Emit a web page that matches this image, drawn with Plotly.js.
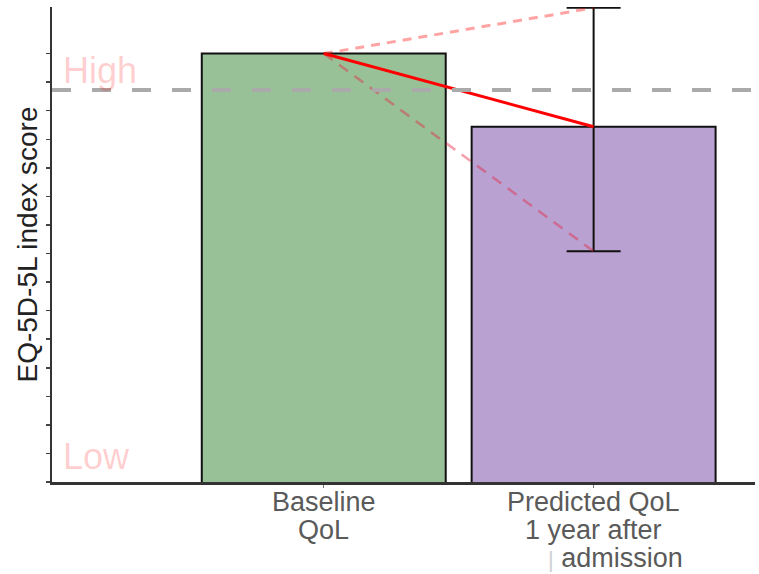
<!DOCTYPE html>
<html>
<head>
<meta charset="utf-8">
<script src="https://cdn.plot.ly/plotly-3.0.1.min.js"></script>
<style>html,body{margin:0;padding:0;background:#fff;}#chart{width:759px;height:574px;}</style>
</head>
<body>
<div id="chart"></div>
<script>
// ---- data ----
const categories = ['Baseline QoL', 'Predicted QoL 1 year after admission'];
const tickLines = [['Baseline', 'QoL'], ['Predicted QoL', '1 year after', '<span style="font-size:22px;color:#d0d0d0">|</span> admission']];
const meanScores = [1.0, 0.872];
const predictedUpper = 1.080;
const predictedLower = 0.654;
const highThreshold = 0.936;
const yTickVals = [0.25, 0.30, 0.35, 0.40, 0.45, 0.50, 0.55, 0.60, 0.65, 0.70, 0.75, 0.80, 0.85, 0.90, 0.95, 1.00];
const levelLabels = ['High', 'Low'];
const levelPositions = [0.971, 0.294];
const yTitle = 'EQ-5D-5L index score';

const xPos = categories.map((c, i) => i);
const barColors = ['#99c198', '#b9a1d1'];
const FONT = 'Liberation Sans, Arial, sans-serif';

const traces = [
  {
    type: 'bar', x: xPos, y: meanScores, width: 0.904,
    marker: {color: barColors, line: {color: '#111', width: 2}},
    hoverinfo: 'skip', showlegend: false
  },
  {
    type: 'scatter', mode: 'markers', x: [xPos[1]], y: [meanScores[1]],
    marker: {size: 1, opacity: 0},
    error_y: {type: 'data', symmetric: false,
      array: [predictedUpper - meanScores[1]],
      arrayminus: [meanScores[1] - predictedLower],
      color: '#111', thickness: 2, width: 27},
    hoverinfo: 'skip', showlegend: false
  },
  {
    type: 'scatter', mode: 'lines', x: xPos, y: [meanScores[0], predictedUpper],
    line: {color: 'rgba(255,0,0,0.36)', width: 3, dash: '9px,7px'},
    hoverinfo: 'skip', showlegend: false
  },
  {
    type: 'scatter', mode: 'lines', x: xPos, y: [meanScores[0], predictedLower],
    line: {color: 'rgba(230,30,60,0.42)', width: 2.5, dash: '11px,8px'},
    hoverinfo: 'skip', showlegend: false
  },
  {
    type: 'scatter', mode: 'lines', x: xPos, y: meanScores,
    line: {color: '#ff0000', width: 3},
    hoverinfo: 'skip', showlegend: false
  }
];

const annotations = [];
tickLines.forEach((lines, i) => {
  lines.forEach((t, j) => {
    annotations.push({
      text: t, xref: 'x', yref: 'paper', x: xPos[i], y: 0,
      xanchor: 'center', yanchor: 'top', showarrow: false, borderpad: 0,
      yshift: -4 - j * 28, xshift: (i === 1 && j === 2) ? 22 : 0,
      font: {family: FONT, size: 27, color: '#5a5a5a'}
    });
  });
});
levelLabels.forEach((t, i) => {
  annotations.push({
    text: t, xref: 'paper', yref: 'y', x: 0, y: levelPositions[i],
    xanchor: 'left', yanchor: 'middle', showarrow: false, xshift: 9,
    font: {family: FONT, size: 36, color: 'rgba(255,0,0,0.2)'}
  });
});

const layout = {
  width: 759, height: 574,
  margin: {l: 52, r: 4, t: 7, b: 92, pad: 0},
  paper_bgcolor: '#fff', plot_bgcolor: '#fff',
  showlegend: false,
  xaxis: {
    range: [-1.007, 1.598], tickvals: xPos, showticklabels: false,
    ticks: 'outside', ticklen: 3, tickcolor: '#777', tickwidth: 1,
    showgrid: false, zeroline: false,
    showline: true, linecolor: '#333', linewidth: 2.5
  },
  yaxis: {
    range: [0.25, 1.0815], tickvals: yTickVals, showticklabels: false,
    ticks: 'outside', ticklen: 4, tickcolor: '#444', tickwidth: 1.5,
    showgrid: false, zeroline: false,
    showline: true, linecolor: '#333', linewidth: 2.5,
    title: {text: yTitle, standoff: 0, font: {family: FONT, size: 28, color: '#222'}}
  },
  shapes: [{
    type: 'line', xref: 'paper', yref: 'y', x0: 0, x1: 1, y0: highThreshold, y1: highThreshold,
    line: {color: '#aaaaaa', width: 4, dash: '19px,21px'}, layer: 'above'
  }],
  annotations: annotations
};

Plotly.newPlot('chart', traces, layout, {staticPlot: true, displayModeBar: false});
</script>
</body>
</html>
